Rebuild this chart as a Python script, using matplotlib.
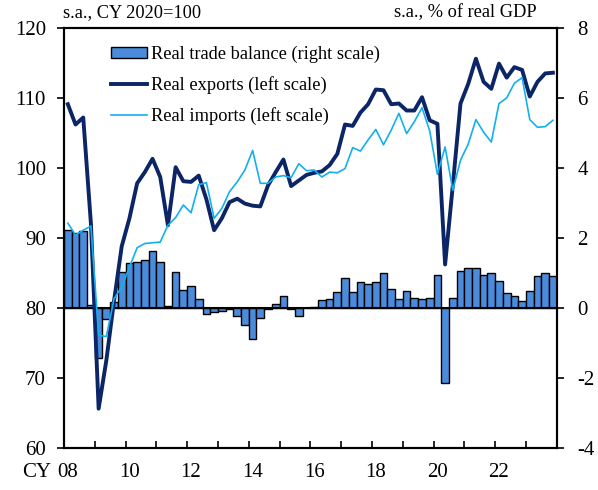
import numpy as np
import matplotlib
matplotlib.use("Agg")
import matplotlib.pyplot as plt
from matplotlib.patches import Patch
from matplotlib.lines import Line2D

# =========================
# DATA (quarterly, 2008Q1 - 2023Q4)
# =========================
real_exports = [
    109.1, 106.2, 107.2, 92.0, 65.6, 72.5, 81.0, 88.8,
    92.8, 97.8, 99.4, 101.3, 98.7, 91.8, 100.1, 98.1,
    98.0, 98.9, 95.5, 91.1, 92.8, 95.1, 95.6, 94.9,
    94.6, 94.5, 97.5, 99.4, 101.2, 97.4, 98.2, 99.0,
    99.3, 99.5, 100.4, 102.0, 106.2, 106.0, 107.9, 109.1,
    111.2, 111.1, 109.1, 109.2, 108.2, 108.2, 110.1, 106.8,
    106.3, 86.2, 97.5, 109.2, 112.0, 115.6, 112.3, 111.3,
    114.9, 112.9, 114.4, 114.0, 110.2, 112.3, 113.5, 113.6,
]
real_imports = [
    92.1, 90.4, 91.1, 91.7, 76.1, 75.9, 81.3, 83.0,
    85.8, 88.6, 89.2, 89.3, 89.4, 91.8, 92.9, 94.7,
    93.6, 97.6, 97.9, 92.8, 94.2, 96.6, 98.0, 99.7,
    102.5, 97.8, 97.8, 98.7, 98.9, 98.6, 100.6, 99.6,
    99.7, 98.7, 99.4, 99.3, 99.9, 102.9, 102.4, 104.0,
    105.5, 103.3, 105.4, 107.8, 104.9, 106.6, 108.6, 105.3,
    99.1, 103.0, 96.8, 101.1, 103.4, 106.9, 105.1, 103.7,
    109.2, 110.0, 112.1, 112.9, 106.9, 105.8, 105.9, 106.8,
]
trade_balance = [
    2.22, 2.15, 2.20, 0.08, -1.42, -0.33, 0.17, 1.03,
    1.28, 1.30, 1.38, 1.63, 1.31, 0.05, 1.03, 0.50,
    0.63, 0.24, -0.18, -0.11, -0.10, -0.03, -0.24, -0.50,
    -0.90, -0.30, -0.02, 0.10, 0.35, -0.02, -0.22, 0.00,
    0.02, 0.22, 0.25, 0.46, 0.84, 0.46, 0.74, 0.68,
    0.74, 1.01, 0.53, 0.25, 0.49, 0.27, 0.24, 0.29,
    0.94, -2.14, 0.27, 1.05, 1.15, 1.15, 0.93, 1.01,
    0.78, 0.43, 0.34, 0.20, 0.49, 0.91, 1.00, 0.90,
]
year_labels = ["08", "10", "12", "14", "16", "18", "20", "22"]

# =========================
# STYLE
# =========================
plt.rcParams["font.family"] = ["Liberation Serif", "DejaVu Serif"]
plt.rcParams["axes.unicode_minus"] = False
bar_color = "#4a8bdb"
exp_color = "#0b2566"
imp_color = "#12b0ee"
tick_fs = 15
text_fs = 13.2

x = np.arange(len(real_exports))

fig = plt.figure(figsize=(5.98, 4.90), dpi=100)
ax = fig.add_axes([0.107, 0.086, 0.824, 0.857])
ax2 = ax.twinx()

# bars on right scale (drawn behind)
ax2.bar(x, trade_balance, width=1.0, color=bar_color, edgecolor="black", linewidth=1.0)
ax2.axhline(0, color="black", linewidth=1.5)
ax2.set_ylim(-4, 8)
ax2.set_yticks(np.arange(-4, 9, 2))

# lines on left scale
ax.set_zorder(ax2.get_zorder() + 1)
ax.patch.set_visible(False)
ax.plot(x, real_exports, color=exp_color, linewidth=2.8)
ax.plot(x, real_imports, color=imp_color, linewidth=1.2)
ax.set_ylim(60, 120)
ax.set_yticks(np.arange(60, 121, 10))
ax.set_xlim(-0.5, len(x) - 0.5)

# x ticks: year boundaries (inward), labels at Q1 of every 2nd year
ax.set_xticks(np.arange(-0.5, len(x), 4))
ax.set_xticklabels([])
ax.tick_params(axis="x", direction="in", length=5, width=1.2)
ax.set_xticks(np.arange(0, len(x), 8), minor=True)
ax.set_xticklabels(year_labels, minor=True)
ax.tick_params(axis="x", which="minor", length=0, pad=11, labelsize=tick_fs)
ax.annotate("CY", xy=(0, 0), xycoords="axes fraction", xytext=(-30, -11),
            textcoords="offset points", ha="left", va="top", fontsize=tick_fs)

ax.tick_params(axis="y", direction="out", length=5, width=1.2, labelsize=tick_fs, pad=8)
ax2.tick_params(axis="y", direction="out", length=5, width=1.2, labelsize=tick_fs, pad=10)

for a in (ax, ax2):
    for s in a.spines.values():
        s.set_linewidth(1.5)

# headers
fig.text(0.106, 0.974, "s.a., CY 2020=100", fontsize=text_fs, ha="left", va="center")
fig.text(0.898, 0.974, "s.a., % of real GDP", fontsize=text_fs, ha="right", va="center")

# legend
handles = [
    Patch(facecolor=bar_color, edgecolor="black", linewidth=1.0),
    Line2D([], [], color=exp_color, linewidth=2.8),
    Line2D([], [], color=imp_color, linewidth=1.2),
]
labels = ["Real trade balance (right scale)", "Real exports (left scale)",
          "Real imports (left scale)"]
ax.legend(handles, labels, loc="upper left", bbox_to_anchor=(0.095, 0.958),
          frameon=False, fontsize=text_fs, handlelength=2.0, handleheight=0.6,
          handletextpad=0.2, labelspacing=0.72, borderpad=0, borderaxespad=0)

fig.savefig("out.png", dpi=100)
